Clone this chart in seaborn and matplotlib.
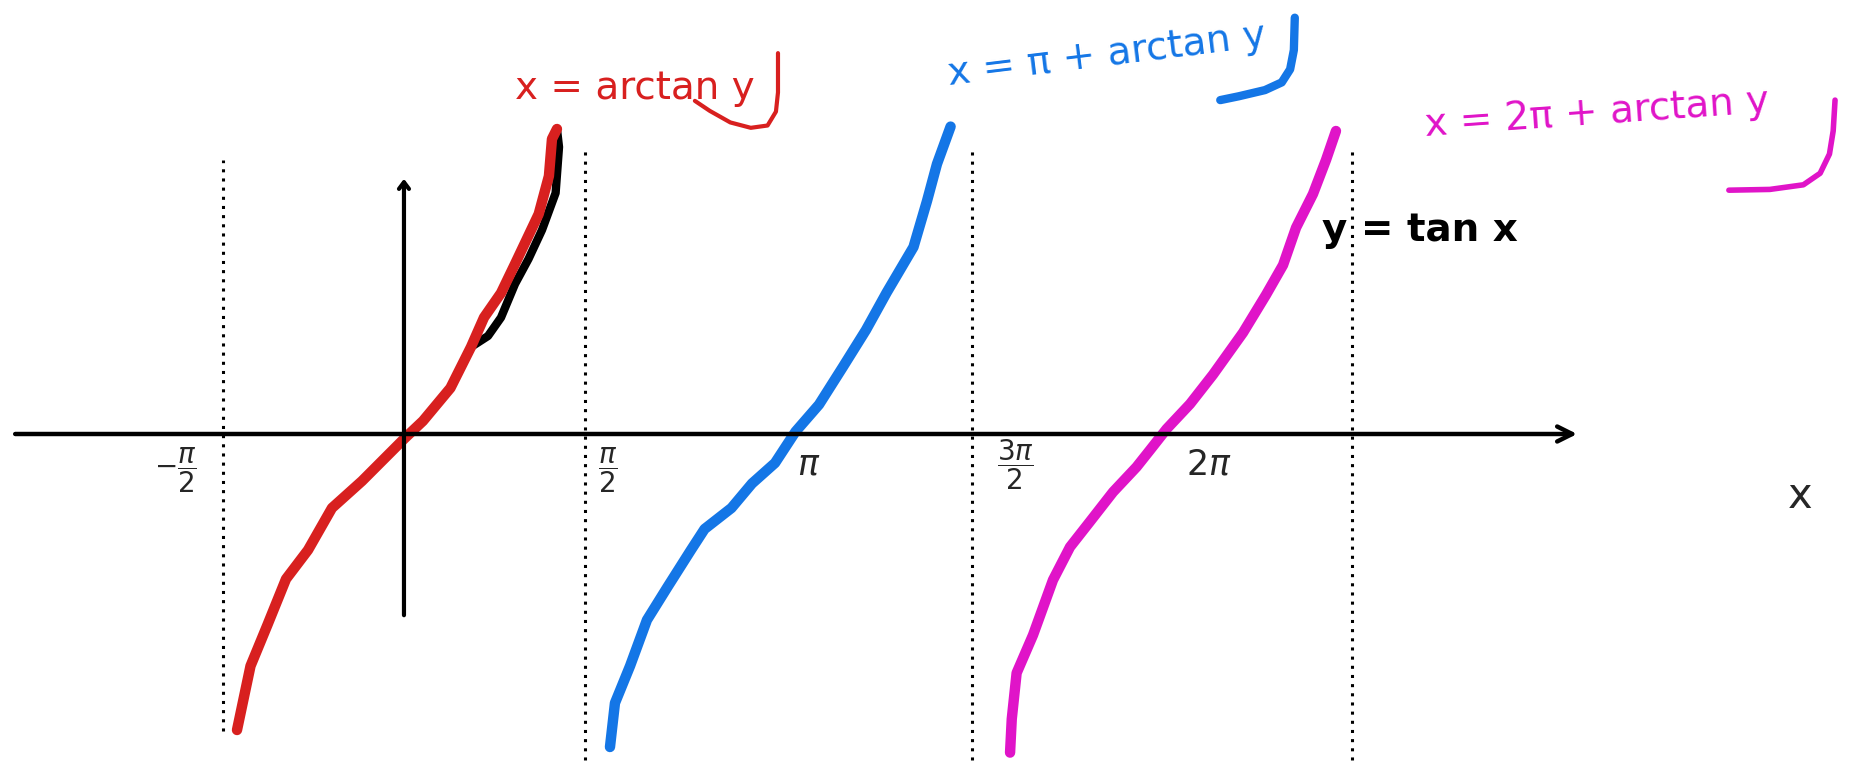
import numpy as np
import matplotlib.pyplot as plt
import seaborn as sns

# hand-drawn branches of tan x (x in radians, y in sketch units)
red_x = [-1.373, -1.262, -1.123, -0.970, -0.789, -0.592, -0.345, -0.148, 0.008, 0.156,
         0.382, 0.551, 0.658, 0.798, 0.913, 1.108, 1.192, 1.217, 1.258]
red_y = [-2.96, -2.32, -1.91, -1.45, -1.16, -0.74, -0.47, -0.23, -0.04, 0.13,
         0.46, 0.87, 1.165, 1.41, 1.70, 2.20, 2.58, 2.95, 3.05]

# black tan x stroke peeking out under the red one
black_x = [0.551, 0.691, 0.798, 0.913, 1.024, 1.135, 1.247, 1.275, 1.258]
black_y = [0.87, 0.98, 1.165, 1.50, 1.75, 2.04, 2.41, 2.87, 3.05]

blue_x = [1.694, 1.735, 1.859, 1.998, 2.167, 2.360, 2.472, 2.693, 2.862, 3.051,
          3.220, 3.413, 3.609, 3.799, 3.969, 4.190, 4.301, 4.383, 4.495]
blue_y = [-3.13, -2.69, -2.32, -1.86, -1.53, -1.16, -0.95, -0.74, -0.495, -0.29,
          0.024, 0.294, 0.67, 1.04, 1.414, 1.87, 2.33, 2.70, 3.074]

pink_x = [4.984, 4.998, 5.038, 5.173, 5.337, 5.477, 5.641, 5.831, 6.024, 6.135,
          6.271, 6.464, 6.653, 6.900, 7.089, 7.229, 7.336, 7.475, 7.582, 7.664]
pink_y = [-3.186, -2.85, -2.39, -2.01, -1.46, -1.13, -0.876, -0.58, -0.33, -0.16,
          0.05, 0.30, 0.594, 1.014, 1.392, 1.69, 2.064, 2.40, 2.74, 3.03]

# asymptotes (dotted) as drawn
asym_x = [-1.49, 1.49, 4.67, 7.80]
asym_top = [2.74, 2.86, 2.86, 2.86]
asym_bot = [-2.97, -3.26, -3.26, -3.26]

tick_labels = [r"$-\dfrac{\pi}{2}$", r"$\dfrac{\pi}{2}$", r"$\pi$", r"$\dfrac{3\pi}{2}$", r"$2\pi$"]
tick_pos = [(0.094, 0.390), (0.326, 0.389), (0.434, 0.397), (0.545, 0.396), (0.649, 0.397)]
tick_size = [20, 20, 25, 20, 25]

# tails of the handwritten "y" under each label (axes fraction)
hook_red = ([0.4176, 0.4176, 0.4165, 0.412, 0.403, 0.392, 0.381, 0.373],
            [0.931, 0.880, 0.855, 0.837, 0.834, 0.841, 0.856, 0.869])
hook_blue = ([0.695, 0.6945, 0.6925, 0.688, 0.679, 0.665, 0.655],
             [0.977, 0.935, 0.910, 0.893, 0.883, 0.875, 0.870])
hook_pink = ([0.985, 0.984, 0.982, 0.977, 0.968, 0.950, 0.928],
             [0.870, 0.830, 0.800, 0.775, 0.760, 0.754, 0.753])

RED = "#d8201f"
BLUE = "#1476e6"
PINK = "#e014c8"

sns.set_theme(style="white")
plt.rcParams['font.family'] = ['DejaVu Sans']

fig = plt.figure(figsize=(18.63, 7.70), dpi=100)
ax = fig.add_axes([0, 0, 1, 1])
ax.set_xlim(-3.322, 11.998)
ax.set_ylim(-3.36, 4.34)
ax.axis("off")

# axes drawn by hand
ax.annotate("", xy=(9.67, 0), xytext=(-3.22, 0),
            arrowprops=dict(arrowstyle="->,head_length=0.9,head_width=0.45", lw=3.2, color="black"))
ax.annotate("", xy=(0, 2.58), xytext=(0, -1.84),
            arrowprops=dict(arrowstyle="->,head_length=0.4,head_width=0.3", lw=3.0, color="black"))

for xa, t, b in zip(asym_x, asym_top, asym_bot):
    ax.plot([xa, xa], [b, t], color="black", lw=2.2, ls=(0, (1, 2)))

line_kw = dict(sort=False, estimator=None, ax=ax, legend=False)
sns.lineplot(x=black_x, y=black_y, color="black", linewidth=6, **line_kw)
sns.lineplot(x=red_x, y=red_y, color=RED, linewidth=7.5, **line_kw)
sns.lineplot(x=blue_x, y=blue_y, color=BLUE, linewidth=7.5, **line_kw)
sns.lineplot(x=pink_x, y=pink_y, color=PINK, linewidth=7.5, **line_kw)
for ln in ax.get_lines():
    ln.set_solid_capstyle("round")
    ln.set_solid_joinstyle("round")

tx = ax.transAxes
for (hx, hy), c, w in zip([hook_red, hook_blue, hook_pink], [RED, BLUE, PINK], [3, 6, 4]):
    ax.plot(hx, hy, color=c, lw=w, transform=tx, solid_capstyle="round", solid_joinstyle="round")

# labels
ax.text(0.341, 0.886, "x = arctan y", color=RED, fontsize=28, ha="center", va="center", transform=tx)
ax.text(0.594, 0.929, "x = π + arctan y", color=BLUE, fontsize=28, ha="center", va="center",
        rotation=7, transform=tx)
ax.text(0.857, 0.853, "x = 2π + arctan y", color=PINK, fontsize=28, ha="center", va="center",
        rotation=4, transform=tx)
ax.text(0.762, 0.701, "y = tan x", color="black", fontsize=28, fontweight="bold",
        ha="center", va="center", transform=tx)

for lab, (px, py), fs in zip(tick_labels, tick_pos, tick_size):
    ax.text(px, py, lab, fontsize=fs, ha="center", va="center", transform=tx)
ax.text(0.966, 0.356, "x", fontsize=30, ha="center", va="center", transform=tx)

fig.savefig("out.png", dpi=100)
